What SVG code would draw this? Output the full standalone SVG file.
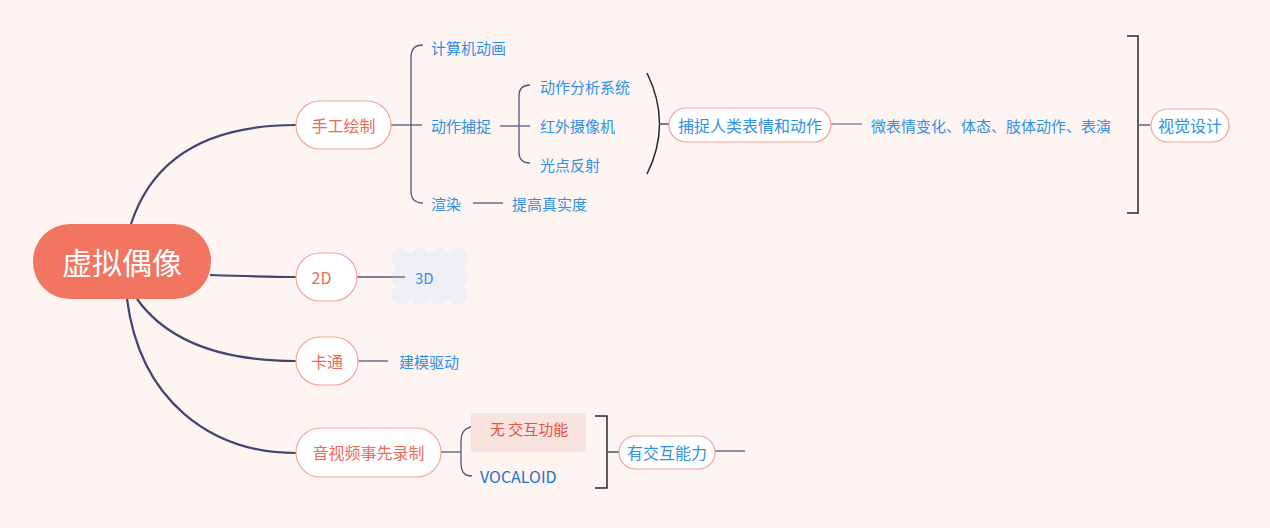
<svg xmlns="http://www.w3.org/2000/svg" width="1270" height="528" viewBox="0 0 1270 528">
<style>
text{font-family:"Noto Sans CJK SC","Noto Sans",sans-serif;dominant-baseline:central}
.node{fill:#fff;stroke:#f4a597;stroke-width:1.2}
.tr{fill:#f06a5a;font-size:16px}
.tb{fill:#2f90e8;font-size:16px}
.leaf{fill:#2f90e8;font-size:15px}
.main{fill:none;stroke:#414570;stroke-width:2.2}
.sub{fill:none;stroke:#55577c;stroke-width:1.3}
.dark{fill:none;stroke:#2a2a2a;stroke-width:1.5}
</style>
<rect width="1270" height="528" fill="#fef5f3"/>
<g id="connectors">
<path class="main" d="M131,224 C155,150 220,125 296,125"/>
<path class="main" d="M210,275 C240,276 270,277 296,277"/>
<path class="main" d="M137,299 C170,345 230,361 296,361"/>
<path class="main" d="M127,299 C140,400 210,453 296,453"/>
<path class="sub" d="M391,125 L422,125"/>
<path class="sub" d="M423,45 Q411,45 411,57 L411,191 Q411,203 423,203"/>
<path class="sub" d="M500,126 L530,126"/>
<path class="sub" d="M530,85 Q519,85 519,96 L519,152 Q519,163 530,163"/>
<path class="sub" d="M473,203 L503,203"/>
<path class="sub" d="M357,277 L405,277"/>
<path class="sub" d="M358,361 L388,361"/>
<path class="sub" d="M441,452 L461,452"/>
<path class="sub" d="M480,426 C464,426 461,432 461,442 L461,462 C461,472 464,476 472,476"/>
<path class="dark" d="M647,73 Q672,124 647,174"/>
<path fill="none" stroke="#555" stroke-width="1.5" d="M659,124 L669,124"/>
<path fill="none" stroke="#8a87a8" stroke-width="1.5" d="M831,124 L862,124"/>
<path class="dark" d="M1127,36 L1138,36 L1138,213 L1127,213"/>
<path fill="none" stroke="#666" stroke-width="1.5" d="M1138,125 L1150,125"/>
<path class="dark" d="M595,416 L607,416 L607,488 L595,488"/>
<path fill="none" stroke="#555" stroke-width="1.5" d="M607,452 L619,452"/>
<path class="sub" d="M715,451 L745,451"/>
</g>
<g id="n-root">
<rect x="33" y="224" width="178" height="75" rx="37" fill="#f27562"/>
<text x="122" y="261" font-size="30" fill="#fff" text-anchor="middle">虚拟偶像</text>
</g>
<g id="n-shougong">
<rect class="node" x="296" y="101" width="95" height="48" rx="24"/>
<text class="tr" x="343.5" y="125" text-anchor="middle">手工绘制</text>
</g>
<g id="n-jisuanji"><text class="leaf" x="431" y="47">计算机动画</text></g>
<g id="n-dongzuobuzhuo"><text class="leaf" x="431" y="125">动作捕捉</text></g>
<g id="n-xuanran"><text class="leaf" x="431" y="203">渲染</text></g>
<g id="n-fenxi"><text class="leaf" x="540" y="86">动作分析系统</text></g>
<g id="n-hongwai"><text class="leaf" x="540" y="125">红外摄像机</text></g>
<g id="n-guangdian"><text class="leaf" x="540" y="164">光点反射</text></g>
<g id="n-zhenshi"><text class="leaf" x="512" y="203">提高真实度</text></g>
<g id="n-buzhuo">
<rect class="node" x="669" y="108" width="162" height="34" rx="17"/>
<text class="tb" x="750" y="125" text-anchor="middle">捕捉人类表情和动作</text>
</g>
<g id="n-weibiaoqing"><text class="leaf" x="871" y="125">微表情变化、体态、肢体动作、表演</text></g>
<g id="n-shijue">
<rect class="node" x="1151" y="109" width="78" height="33" rx="16.5"/>
<text class="tb" x="1190" y="125" text-anchor="middle">视觉设计</text>
</g>
<g id="n-2d">
<rect class="node" x="296" y="253" width="61" height="48" rx="24"/>
<text class="tr" x="321.5" y="277" text-anchor="middle">2D</text>
</g>
<g id="n-3d">
<g fill="#eeeef4">
<rect x="396" y="256" width="67" height="41"/>
<circle cx="401" cy="258" r="10"/><circle cx="420" cy="258" r="10"/><circle cx="439" cy="258" r="10"/><circle cx="458" cy="258" r="10"/>
<circle cx="401" cy="295" r="10"/><circle cx="420" cy="295" r="10"/><circle cx="439" cy="295" r="10"/><circle cx="458" cy="295" r="10"/>
<circle cx="401" cy="276.5" r="10"/><circle cx="458" cy="276.5" r="10"/>
</g>
<path class="sub" d="M391,277 L405,277"/>
<text class="leaf" x="415" y="277">3D</text>
</g>
<g id="n-katong">
<rect class="node" x="296" y="337" width="62" height="48" rx="24"/>
<text class="tr" x="327" y="361" text-anchor="middle">卡通</text>
</g>
<g id="n-jianmo"><text class="leaf" x="399" y="361">建模驱动</text></g>
<g id="n-yinshipin">
<rect class="node" x="296" y="428" width="145" height="49" rx="24.5"/>
<text class="tr" x="368.5" y="452" text-anchor="middle">音视频事先录制</text>
</g>
<g id="n-wujiaohu">
<rect x="471" y="413" width="115" height="39" fill="#f8e3df"/>
<text x="490" y="428" font-size="15" fill="#e8503f">无 交互功能</text>
</g>
<g id="n-vocaloid"><text x="480" y="476" font-size="16" fill="#1f6fd0">VOCALOID</text></g>
<g id="n-youjiaohu">
<rect class="node" x="619" y="436" width="96" height="33" rx="16.5"/>
<text class="tb" x="667" y="452" text-anchor="middle">有交互能力</text>
</g>
</svg>
